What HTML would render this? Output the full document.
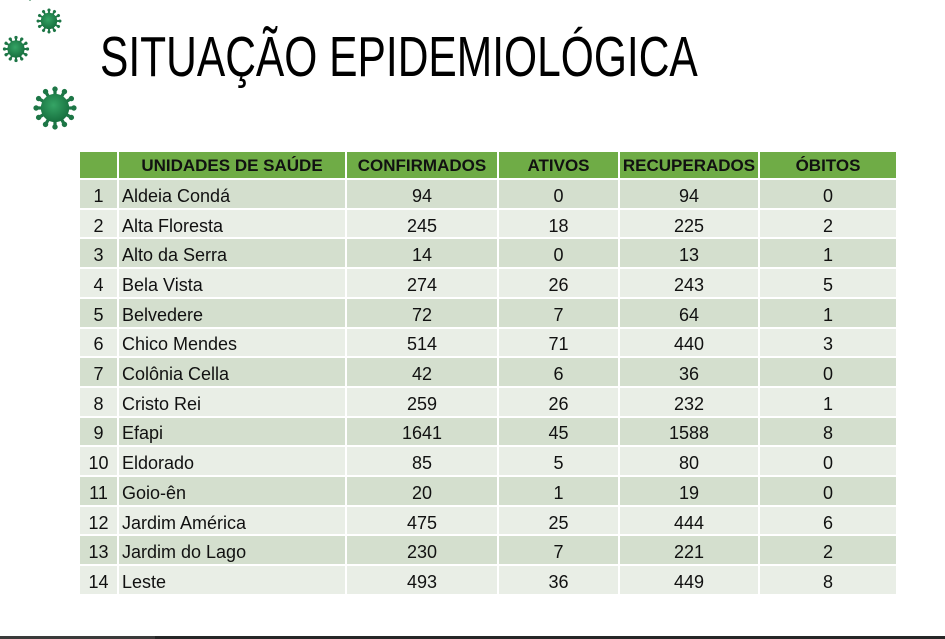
<!DOCTYPE html>
<html>
<head>
<meta charset="utf-8">
<style>
  html,body{margin:0;padding:0;background:#fff;}
  body{width:945px;height:639px;position:relative;overflow:hidden;font-family:"Liberation Sans",sans-serif;color:#111;}
  .title{position:absolute;left:100px;top:29px;font-size:57px;line-height:57px;white-space:nowrap;transform:scaleX(0.746);transform-origin:0 0;color:#000;}
  .grid{position:absolute;left:80px;top:152px;width:816px;display:grid;
        grid-template-columns:37px 226px 150px 119px 138px 136px;
        grid-template-rows:26px repeat(14,27.71px);
        column-gap:2px;row-gap:2px;}
  .grid div{display:flex;align-items:center;justify-content:center;box-sizing:border-box;padding-top:5px;font-size:18px;white-space:nowrap;}
  .grid div.h{background:#6FAC46;font-weight:bold;padding-top:2px;font-size:17px;}
  .grid div.o{background:#D4DFCE;}
  .grid div.e{background:#E9EEE6;}
  .grid div.l{justify-content:flex-start;padding-left:3px;}
  .bar{position:absolute;left:0;top:636px;width:945px;height:3px;background:linear-gradient(to right,#3a3a3a 0,#3a3a3a 155px,#262626 155px);}
</style>
</head>
<body>
<svg width="945" height="639" style="position:absolute;left:0;top:0" xmlns="http://www.w3.org/2000/svg">
  <defs>
    <radialGradient id="vg" cx="0.45" cy="0.4" r="0.6">
      <stop offset="0" stop-color="#35a465"/>
      <stop offset="1" stop-color="#17703f"/>
    </radialGradient>
    <g id="sp">
      <line x1="9" y1="0" x2="13.5" y2="0" stroke="#1d7646" stroke-width="2.4"/>
      <circle cx="14" cy="0" r="2" fill="#1d7646"/>
    </g>
    <g id="vir">
      <use href="#sp"/>
      <use href="#sp" transform="rotate(30)"/>
      <use href="#sp" transform="rotate(60)"/>
      <use href="#sp" transform="rotate(90)"/>
      <use href="#sp" transform="rotate(120)"/>
      <use href="#sp" transform="rotate(150)"/>
      <use href="#sp" transform="rotate(180)"/>
      <use href="#sp" transform="rotate(210)"/>
      <use href="#sp" transform="rotate(240)"/>
      <use href="#sp" transform="rotate(270)"/>
      <use href="#sp" transform="rotate(300)"/>
      <use href="#sp" transform="rotate(330)"/>
      <circle cx="0" cy="0" r="10.5" fill="url(#vg)"/>
    </g>
  </defs>
  <use href="#vir" transform="translate(30,-9) scale(0.6)"/>
  <use href="#vir" transform="translate(49,21) scale(0.78)"/>
  <use href="#vir" transform="translate(16,49) scale(0.82)"/>
  <use href="#vir" transform="translate(55,108) scale(1.35)"/>
</svg>

<div class="title">SITUAÇÃO EPIDEMIOLÓGICA</div>

<div class="grid">
  <div class="h"></div><div class="h">UNIDADES DE SAÚDE</div><div class="h">CONFIRMADOS</div><div class="h">ATIVOS</div><div class="h">RECUPERADOS</div><div class="h">ÓBITOS</div>

  <div class="o">1</div><div class="o l">Aldeia Condá</div><div class="o">94</div><div class="o">0</div><div class="o">94</div><div class="o">0</div>
  <div class="e">2</div><div class="e l">Alta Floresta</div><div class="e">245</div><div class="e">18</div><div class="e">225</div><div class="e">2</div>
  <div class="o">3</div><div class="o l">Alto da Serra</div><div class="o">14</div><div class="o">0</div><div class="o">13</div><div class="o">1</div>
  <div class="e">4</div><div class="e l">Bela Vista</div><div class="e">274</div><div class="e">26</div><div class="e">243</div><div class="e">5</div>
  <div class="o">5</div><div class="o l">Belvedere</div><div class="o">72</div><div class="o">7</div><div class="o">64</div><div class="o">1</div>
  <div class="e">6</div><div class="e l">Chico Mendes</div><div class="e">514</div><div class="e">71</div><div class="e">440</div><div class="e">3</div>
  <div class="o">7</div><div class="o l">Colônia Cella</div><div class="o">42</div><div class="o">6</div><div class="o">36</div><div class="o">0</div>
  <div class="e">8</div><div class="e l">Cristo Rei</div><div class="e">259</div><div class="e">26</div><div class="e">232</div><div class="e">1</div>
  <div class="o">9</div><div class="o l">Efapi</div><div class="o">1641</div><div class="o">45</div><div class="o">1588</div><div class="o">8</div>
  <div class="e">10</div><div class="e l">Eldorado</div><div class="e">85</div><div class="e">5</div><div class="e">80</div><div class="e">0</div>
  <div class="o">11</div><div class="o l">Goio-ên</div><div class="o">20</div><div class="o">1</div><div class="o">19</div><div class="o">0</div>
  <div class="e">12</div><div class="e l">Jardim América</div><div class="e">475</div><div class="e">25</div><div class="e">444</div><div class="e">6</div>
  <div class="o">13</div><div class="o l">Jardim do Lago</div><div class="o">230</div><div class="o">7</div><div class="o">221</div><div class="o">2</div>
  <div class="e">14</div><div class="e l">Leste</div><div class="e">493</div><div class="e">36</div><div class="e">449</div><div class="e">8</div>
</div>

<div class="bar"></div>
</body>
</html>
